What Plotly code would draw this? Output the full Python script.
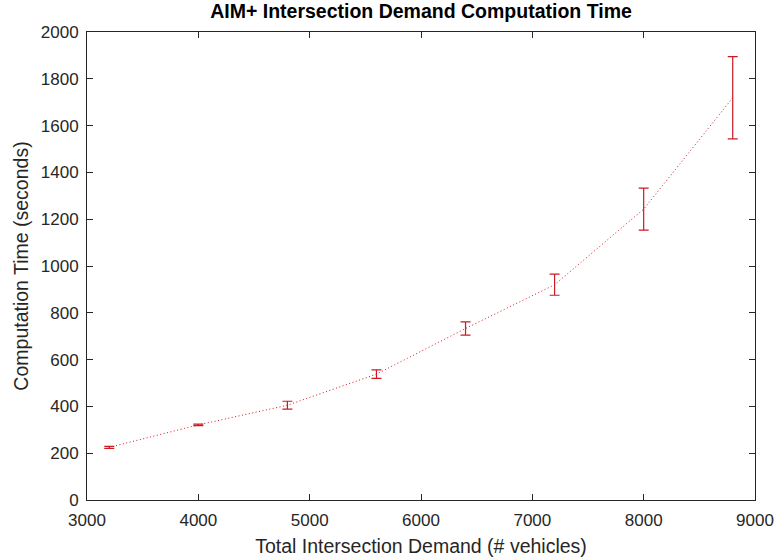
import plotly.graph_objects as go

demand = [3200, 4000, 4800, 5600, 6400, 7200, 8000, 8800]
comp_time = [225, 321, 405, 538, 733, 920, 1243, 1719]
comp_err = [4, 3, 17, 18, 28, 45, 90, 176]

x_ticks = [3000, 4000, 5000, 6000, 7000, 8000, 9000]
y_ticks = [0, 200, 400, 600, 800, 1000, 1200, 1400, 1600, 1800, 2000]

red = "rgb(205,25,35)"
axis_col = "#262626"
font_fam = "Liberation Sans, Arial, sans-serif"

fig = go.Figure()
fig.add_trace(go.Scatter(
    x=demand, y=comp_time, mode="lines",
    line=dict(color=red, width=1, dash="1px,2.5px"),
    error_y=dict(type="data", array=comp_err, visible=True,
                 color=red, thickness=1.2, width=5),
    showlegend=False,
))

fig.update_layout(
    width=778, height=558,
    margin=dict(l=87, r=23, t=32, b=58),
    plot_bgcolor="white", paper_bgcolor="white",
    font=dict(family=font_fam, color=axis_col, size=17),
    title=dict(text="<b>AIM+ Intersection Demand Computation Time</b>",
               x=0.5, xref="paper", xanchor="center",
               y=0.993, yref="container", yanchor="top", pad=dict(t=0, b=0),
               font=dict(family=font_fam, size=19.5, color="#000000")),
    xaxis=dict(range=[3000, 9000], tickvals=x_ticks, ticktext=[str(v) for v in x_ticks],
               ticks="inside", ticklen=6, tickcolor=axis_col, showline=True,
               linecolor=axis_col, linewidth=1, mirror="ticks", showgrid=False,
               zeroline=False, ticklabelstandoff=5, automargin=False,
               title=dict(text="Total Intersection Demand (# vehicles)", standoff=9,
                          font=dict(size=19.5, color=axis_col))),
    yaxis=dict(range=[0, 2000], tickvals=y_ticks, ticktext=[str(v) for v in y_ticks],
               ticks="inside", ticklen=6, tickcolor=axis_col, showline=True,
               linecolor=axis_col, linewidth=1, mirror="ticks", showgrid=False,
               zeroline=False, ticklabelstandoff=4, automargin=False,
               title=dict(text="Computation Time (seconds)", standoff=6,
                          font=dict(size=19.5, color=axis_col))),
)

fig.write_html("out.html")
